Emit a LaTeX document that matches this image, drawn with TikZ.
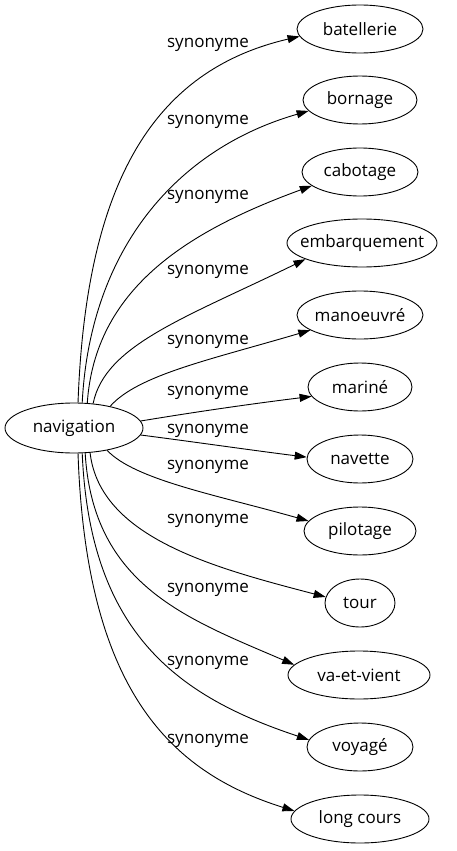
\documentclass[tikz,border=0pt]{standalone}
\usepackage{fontspec}
\setmainfont{Open Sans}
\usetikzlibrary{shapes.geometric,arrows.meta}
\newcommand{\nodetxt}[1]{\makebox[0pt]{#1}}
\begin{document}
\begin{tikzpicture}[x=1pt,y=-1pt,
  every node/.style={font=\fontsize{17}{20}\selectfont},
  word/.style={draw,ellipse,inner sep=0pt,minimum height=48pt,line width=0.9pt},
  lab/.style={inner sep=0pt},
  edge/.style={draw,line width=0.9pt,-{Triangle[length=12pt,width=8pt]}}]
\useasboundingbox (0,0) rectangle (456,851);
\node[word,minimum width=138pt,minimum height=50pt] (nav) at (74,428) {\nodetxt{navigation}};
\node[word,minimum width=126pt] (bat) at (360,29) {\nodetxt{batellerie}};
\node[word,minimum width=114pt] (bor) at (360,100) {\nodetxt{bornage}};
\node[word,minimum width=116pt] (cab) at (360,172) {\nodetxt{cabotage}};
\node[word,minimum width=150pt] (emb) at (362,243) {\nodetxt{embarquement}};
\node[word,minimum width=126pt] (man) at (360,315) {\nodetxt{manoeuvré}};
\node[word,minimum width=104pt] (mar) at (360,387) {\nodetxt{mariné}};
\node[word,minimum width=106pt] (nvt) at (360,459) {\nodetxt{navette}};
\node[word,minimum width=112pt] (pil) at (360,531) {\nodetxt{pilotage}};
\node[word,minimum width=70pt] (tou) at (360,603) {\nodetxt{tour}};
\node[word,minimum width=142pt] (vae) at (359,675) {\nodetxt{va-et-vient}};
\node[word,minimum width=106pt] (voy) at (360,747) {\nodetxt{voyagé}};
\node[word,minimum width=138pt] (lon) at (360,819) {\nodetxt{long cours}};
\node[lab] (l1) at (208,45) {synonyme};
\node[lab] (l2) at (208,122) {synonyme};
\node[lab] (l3) at (208,197) {synonyme};
\node[lab] (l4) at (208,272) {synonyme};
\node[lab] (l5) at (208,342) {synonyme};
\node[lab] (l6) at (208,393) {synonyme};
\node[lab] (l7) at (208,431) {synonyme};
\node[lab] (l8) at (208,467) {synonyme};
\node[lab] (l9) at (208,521) {synonyme};
\node[lab] (l10) at (208,590) {synonyme};
\node[lab] (l11) at (208,663) {synonyme};
\node[lab] (l12) at (208,741) {synonyme};
\draw[edge] (nav.81) .. controls (86,180) and (155,70) .. (bat.187);
\draw[edge] (nav.72) .. controls (90,250) and (176,149) .. (bor.192);
\draw[edge] (nav.62) .. controls (95,290) and (185,232) .. (cab.196);
\draw[edge] (nav.52) .. controls (105,345) and (185,318) .. (emb.196);
\draw[edge] (nav.31) .. controls (138,375) and (209,360) .. (man.197);
\draw[edge] (nav.6) .. controls (195,412) and (250,404) .. (mar.191);
\draw[edge] (nav.-6) .. controls (195,442) and (250,450) .. (nvt.178);
\draw[edge] (nav.-34) .. controls (135,480) and (217,495) .. (pil.169);
\draw[edge] (nav.-57) .. controls (100,538) and (215,568) .. (tou.170);
\draw[edge] (nav.-66) .. controls (93,586) and (188,619) .. (vae.171);
\draw[edge] (nav.-72) .. controls (90,635) and (180,697) .. (voy.172);
\draw[edge] (nav.-81) .. controls (86,690) and (170,772) .. (lon.173);
\end{tikzpicture}
\end{document}
